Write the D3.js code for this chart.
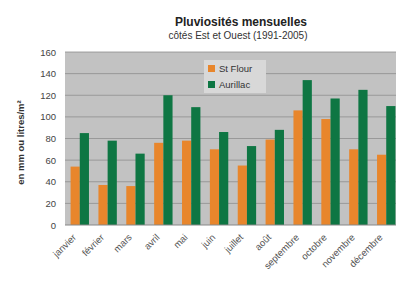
<!DOCTYPE html>
<html>
<head>
<meta charset="utf-8">
<script src="https://cdn.jsdelivr.net/npm/d3@7"></script>
<style>
  body { margin: 0; background: #fff; }
  svg { display: block; font-family: "Liberation Sans", Arial, sans-serif; }
</style>
</head>
<body>
<div id="chart"></div>
<script>
// Monthly rainfall, mm
const months = ["janvier", "février", "mars", "avril", "mai", "juin", "juillet", "août", "septembre", "octobre", "novembre", "décembre"];
const stFlour = [54, 37, 36, 76, 78, 70, 55, 79, 106, 98, 70, 65];
const aurillac = [85, 78, 66, 120, 109, 86, 73, 88, 134, 117, 125, 110];
const seriesNames = ["St Flour", "Aurillac"];
const seriesColors = ["#e8862c", "#0e7643"];
const yTicks = [0, 20, 40, 60, 80, 100, 120, 140, 160];

const width = 396, height = 286;
const margin = { top: 52, right: -5, bottom: 61, left: 65 };
const w = width - margin.left - margin.right;
const h = height - margin.top - margin.bottom;

const svg = d3.select("#chart").append("svg")
  .attr("width", width)
  .attr("height", height);

const rows = months.map((m, i) => ({ month: m, values: [stFlour[i], aurillac[i]] }));

const x = d3.scaleBand().domain(months).range([0, w]).paddingInner(0.34).paddingOuter(0.2);
const xs = d3.scaleBand().domain([0, 1]).range([0, x.bandwidth()]);
const y = d3.scaleLinear().domain([0, 160]).range([h, 0]);

const g = svg.append("g").attr("transform", `translate(${margin.left},${margin.top})`);

// plot background
g.append("rect")
  .attr("width", w).attr("height", h)
  .attr("fill", "#c2c2c2");

// gridlines
g.append("g")
  .selectAll("line")
  .data(yTicks.slice(1))
  .join("line")
    .attr("x1", 0).attr("x2", w)
    .attr("y1", d => y(d)).attr("y2", d => y(d))
    .attr("stroke", "#8e8e8e")
    .attr("stroke-width", 0.8);

// bars
g.append("g")
  .selectAll("g")
  .data(rows)
  .join("g")
    .attr("transform", d => `translate(${x(d.month)},0)`)
  .selectAll("rect")
  .data(d => d.values.map((v, k) => ({ v, k })))
  .join("rect")
    .attr("x", d => xs(d.k))
    .attr("width", xs.bandwidth())
    .attr("y", d => y(d.v))
    .attr("height", d => h - y(d.v))
    .attr("fill", d => seriesColors[d.k]);

// y axis
const yAxis = g.append("g")
  .call(d3.axisLeft(y).tickValues(yTicks).tickSize(0).tickPadding(9));
yAxis.select(".domain").remove();
yAxis.selectAll("text")
  .attr("font-size", 9.5)
  .attr("fill", "#444");

// x axis baseline
g.append("line")
  .attr("x1", 0).attr("x2", w)
  .attr("y1", h).attr("y2", h)
  .attr("stroke", "#888");

// x labels
const xAxis = g.append("g")
  .attr("transform", `translate(0,${h})`)
  .call(d3.axisBottom(x).tickSize(0).tickPadding(0));
xAxis.select(".domain").remove();
xAxis.selectAll("text")
  .attr("font-size", 9.5)
  .attr("fill", "#555")
  .attr("text-anchor", "end")
  .attr("dy", 0)
  .attr("transform", "translate(-3,13) rotate(-45)");

// y label
svg.append("text")
  .attr("transform", `translate(24,${margin.top + h / 2 + 4}) rotate(-90)`)
  .attr("text-anchor", "middle")
  .attr("font-size", 9.5)
  .attr("font-weight", "bold")
  .attr("fill", "#333")
  .text("en mm ou litres/m²");

// title
svg.append("text")
  .attr("x", 241).attr("y", 26)
  .attr("text-anchor", "middle")
  .attr("font-size", 12)
  .attr("font-weight", "bold")
  .attr("fill", "#222")
  .text("Pluviosités mensuelles");

svg.append("text")
  .attr("x", 238).attr("y", 39)
  .attr("text-anchor", "middle")
  .attr("font-size", 10)
  .attr("fill", "#333")
  .text("côtés Est et Ouest (1991-2005)");

// legend
const legend = svg.append("g").attr("transform", "translate(204,60)");
legend.append("rect")
  .attr("width", 62).attr("height", 33)
  .attr("fill", "#d8d8d8");
legend.selectAll("g")
  .data(seriesNames)
  .join("g")
    .attr("transform", (d, i) => `translate(4,${5 + i * 16})`)
    .call(sel => {
      sel.append("rect")
        .attr("width", 7).attr("height", 7)
        .attr("fill", (d, i) => seriesColors[i]);
      sel.append("text")
        .attr("x", 11).attr("y", 7)
        .attr("font-size", 9.5)
        .attr("fill", "#333")
        .text(d => d);
    });
</script>
</body>
</html>
